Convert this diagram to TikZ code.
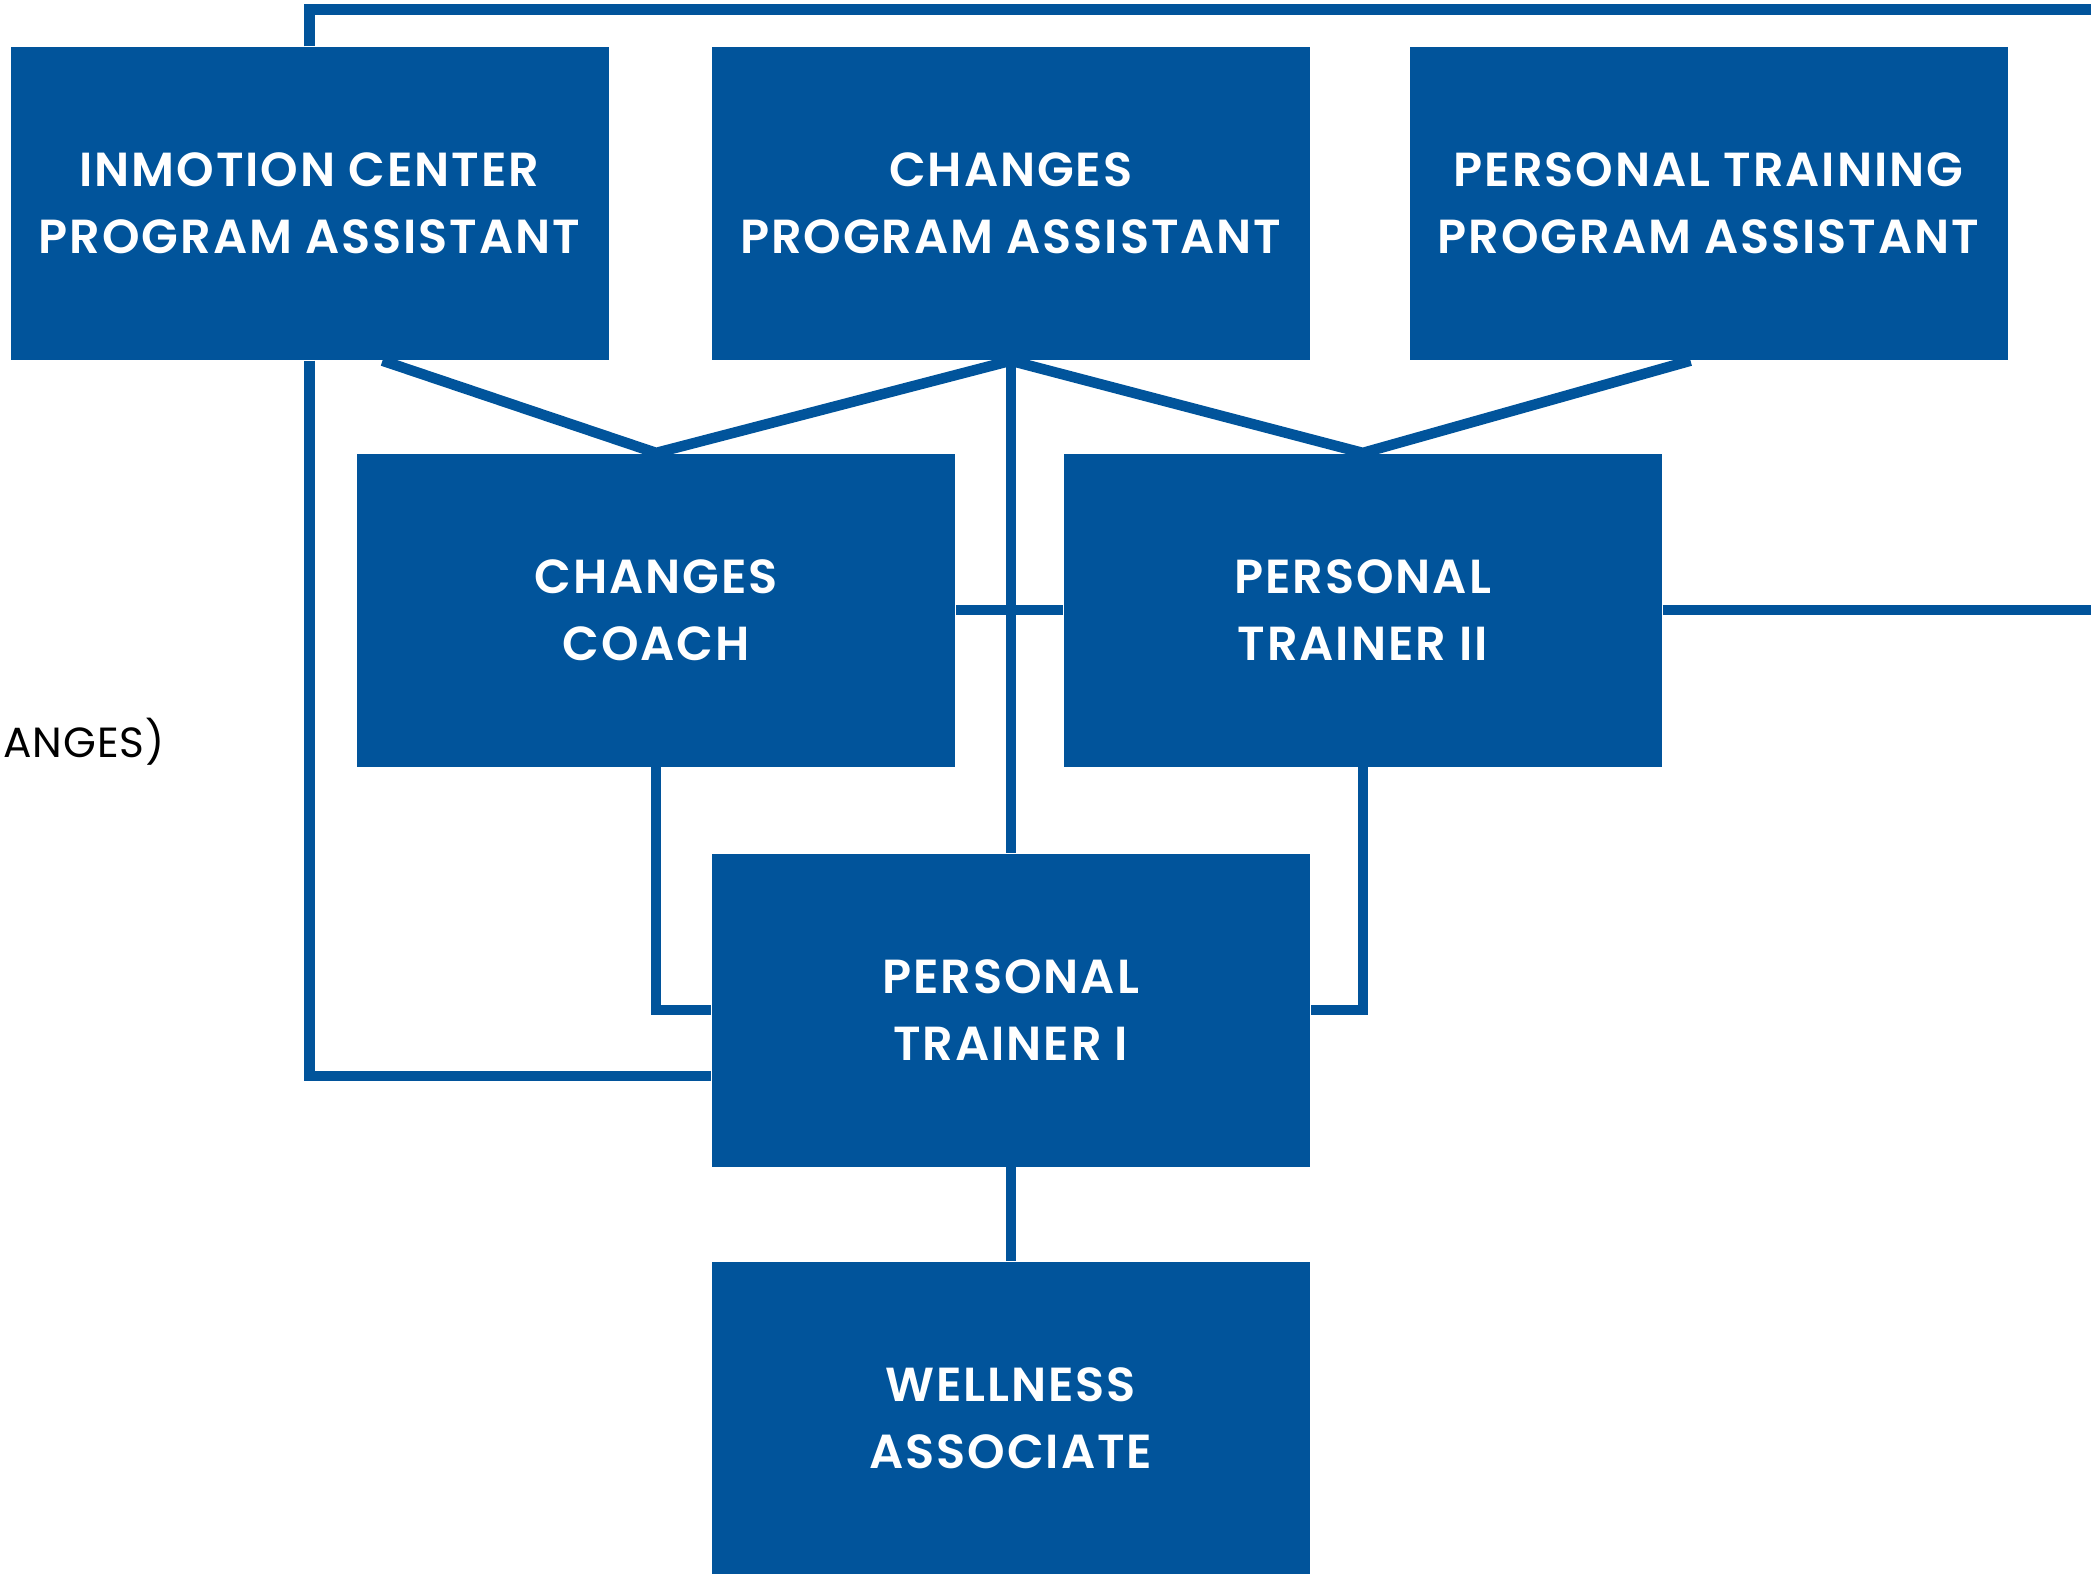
\documentclass[tikz,border=0pt]{standalone}
\usepackage{fontspec}
\setmainfont{Poppins}
\newfontfamily\boxfont{Poppins SemiBold}[LetterSpace=4]
\newfontfamily\notefont{Poppins}[LetterSpace=2]
\definecolor{orgblue}{RGB}{1,84,155}

\begin{document}
\begin{tikzpicture}[
		box/.style = {fill=orgblue, text=white, minimum width=5.98cm, minimum height=3.13cm,
				inner sep=0pt, align=center, font=\boxfont\fontsize{13.6}{19}\selectfont},
		link/.style = {draw=orgblue, line width=1.05mm},
	]
	\useasboundingbox (0,0) rectangle (20.91,-15.73);
	\node[box] (IPA) at (3.095,-2.035) {INMOTION CENTER\\PROGRAM ASSISTANT};
	\node[box] (CPA) at (10.108,-2.035) {CHANGES\\PROGRAM ASSISTANT};
	\node[box] (TPA) at (17.085,-2.035) {PERSONAL TRAINING\\PROGRAM ASSISTANT};
	\node[box] (CC) at (6.561,-6.101) {CHANGES\\COACH};
	\node[box] (PT2) at (13.628,-6.101) {PERSONAL\\TRAINER II};
	\node[box] (PT1) at (10.108,-10.101) {PERSONAL\\TRAINER I};
	\node[box] (WA) at (10.108,-14.18) {WELLNESS\\ASSOCIATE};
	\node[anchor=base west, inner sep=0pt, font=\notefont\fontsize{12}{14}\selectfont] (note) at (0.03,-7.57) {ANGES)};
	\coordinate (TR) at (20.91,-0.095);
	\coordinate (MR) at (20.91,-6.101);
	\draw[link] (IPA.north) |- (TR);
	\draw[link] (IPA.south) |- ([yshift=-6.6mm]PT1.west);
	\draw[link] ([xshift=7.3mm]IPA.south) -- (CC.north) -- (CPA.south) -- (PT2.north) -- ([xshift=-1.8mm]TPA.south);
	\draw[link] (CPA.south) -- (PT1.north);
	\draw[link] (CC.east) -- (PT2.west);
	\draw[link] (PT2.east) -- (MR);
	\draw[link] (CC.south) |- (PT1.west);
	\draw[link] (PT2.south) |- (PT1.east);
	\draw[link] (PT1.south) -- (WA.north);
\end{tikzpicture}
\end{document}
